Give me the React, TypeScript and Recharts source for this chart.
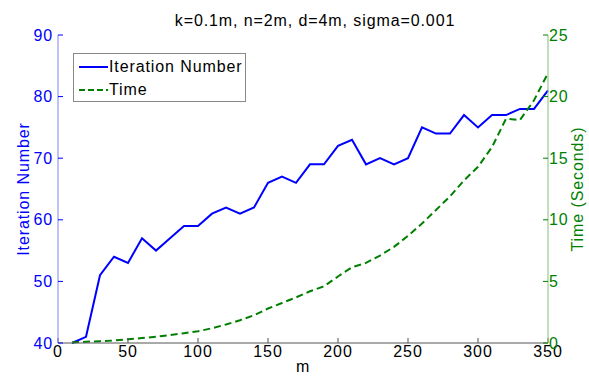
import { LineChart, Line, XAxis, YAxis } from 'recharts'

const mValues = [10, 20, 30, 40, 50, 60, 70, 80, 90, 100, 110, 120, 130, 140, 150, 160, 170, 180, 190, 200, 210, 220, 230, 240, 250, 260, 270, 280, 290, 300, 310, 320, 330, 340, 350]
const iterations = [40, 41, 51, 54, 53, 57, 55, 57, 59, 59, 61, 62, 61, 62, 66, 67, 66, 69, 69, 72, 73, 69, 70, 69, 70, 75, 74, 74, 77, 75, 77, 77, 78, 78, 81]
const times = [0.05, 0.1, 0.15, 0.2, 0.3, 0.4, 0.5, 0.65, 0.8, 0.95, 1.2, 1.5, 1.85, 2.25, 2.8, 3.25, 3.7, 4.2, 4.6, 5.4, 6.15, 6.5, 7.1, 7.8, 8.7, 9.7, 10.8, 11.9, 13.2, 14.3, 15.9, 18.2, 18.1, 19.7, 21.9]

const xTicks = [0, 50, 100, 150, 200, 250, 300, 350]
const leftTicks = [40, 50, 60, 70, 80, 90]
const rightTicks = [0, 5, 10, 15, 20, 25]

const title = 'k=0.1m, n=2m, d=4m, sigma=0.001'

const data = mValues.map((m, i) => ({ m, iter: iterations[i], time: times[i] }))

const FONT = '"Liberation Sans", Arial, sans-serif'
const BLUE = '#0000ff'
const GREEN = '#008000'
const txt = { fontFamily: FONT, fontSize: 16, letterSpacing: 0.9 }

export default function App() {
  return (
    <div style={{ position: 'absolute', left: 0, top: 0, width: 589, height: 377, background: '#fff' }}>
      <div style={{ position: 'absolute', left: 0, top: 12, width: 630, textAlign: 'center', ...txt, color: '#000', lineHeight: '18px' }}>
        {title}
      </div>
      <LineChart width={589} height={377} data={data} margin={{ top: 35, right: 0, bottom: 0, left: 0 }}>
        <XAxis
          dataKey="m"
          type="number"
          domain={[0, 350]}
          ticks={xTicks}
          height={34}
          tickSize={-5}
          tickMargin={8}
          stroke="#555"
          tick={{ fill: '#000', stroke: 'none', ...txt }}
          label={{ value: 'm', position: 'insideBottom', offset: 5, fill: '#000', stroke: 'none', ...txt }}
        />
        <XAxis
          xAxisId="top"
          orientation="top"
          dataKey="m"
          type="number"
          domain={[0, 350]}
          ticks={xTicks}
          height={0}
          tickSize={-5}
          tickFormatter={() => ''}
          stroke="#555"
        />
        <YAxis
          yAxisId="left"
          domain={[40, 90]}
          ticks={leftTicks}
          width={58}
          tickSize={-5}
          tickMargin={10}
          stroke="#8080ff"
          tickLine={{ stroke: BLUE }}
          tick={{ fill: BLUE, stroke: 'none', ...txt }}
          label={{ value: 'Iteration Number', angle: -90, position: 'center', dx: -6, fill: BLUE, stroke: 'none', ...txt }}
        />
        <YAxis
          yAxisId="right"
          orientation="right"
          domain={[0, 25]}
          ticks={rightTicks}
          width={41}
          tickSize={-5}
          tickMargin={6}
          stroke="#80c080"
          tickLine={{ stroke: GREEN }}
          tick={{ fill: GREEN, stroke: 'none', ...txt, textAnchor: 'start' }}
          label={{ value: 'Time (Seconds)', angle: -90, position: 'center', dx: 9, fill: GREEN, stroke: 'none', ...txt }}
        />
        <Line yAxisId="left" dataKey="iter" stroke={BLUE} strokeWidth={2} dot={false} isAnimationActive={false} />
        <Line yAxisId="right" dataKey="time" stroke={GREEN} strokeWidth={2} strokeDasharray="7 4" dot={false} isAnimationActive={false} />
      </LineChart>
      <div style={{ position: 'absolute', left: 73, top: 53, width: 171, height: 47, border: '1px solid #888', background: '#fff', ...txt }}>
        <div style={{ position: 'absolute', left: 5, top: 3, display: 'flex', alignItems: 'center', height: 20 }}>
          <svg width={29} height={4}><line x1={0} y1={2} x2={29} y2={2} stroke={BLUE} strokeWidth={2} /></svg>
          <span style={{ marginLeft: 1 }}>Iteration Number</span>
        </div>
        <div style={{ position: 'absolute', left: 5, top: 26, display: 'flex', alignItems: 'center', height: 20 }}>
          <svg width={29} height={4}><line x1={0} y1={2} x2={29} y2={2} stroke={GREEN} strokeWidth={2} strokeDasharray="6 3" /></svg>
          <span style={{ marginLeft: 1 }}>Time</span>
        </div>
      </div>
    </div>
  )
}
